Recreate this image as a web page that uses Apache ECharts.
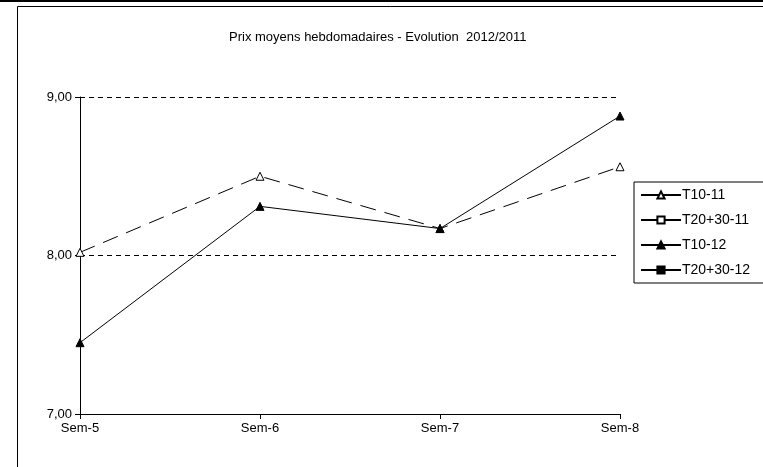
<!doctype html>
<html>
<head>
<meta charset="UTF-8">
<script src="https://cdn.jsdelivr.net/npm/echarts@6/dist/echarts.min.js"></script>
<style>body{margin:0;background:#fff}</style>
</head>
<body>
<div id="main" style="width:763px;height:467px;"></div>
<script>
var categories = ['Sem-5', 'Sem-6', 'Sem-7', 'Sem-8'];
var t1011 = [8.02, 8.50, 8.17, 8.56];
var t2030_11 = [];
var t1012 = [7.45, 8.31, 8.17, 8.88];
var t2030_12 = [];
var yTicks = [7, 8, 9];

var myChart = echarts.init(document.getElementById('main'));
var font = 'Liberation Sans, Arial, sans-serif';
function fmt(v){ return v.toFixed(2).replace('.', ','); }
function ser(name, data, sym, filled, dash){
    return {
        name: name, type: 'line', data: data,
        symbol: sym, symbolSize: 8,
        itemStyle: {color: filled ? '#000' : '#fff', borderColor: '#000', borderWidth: 1},
        lineStyle: {color: '#000', width: 1, type: dash ? [16, 9] : 'solid'}
    };
}
myChart.setOption({
    animation: false,
    title: {text: 'Prix moyens hebdomadaires - Evolution  2012/2011', left: 224, top: 26,
        textStyle: {fontFamily: font, fontSize: 13, fontWeight: 'normal', color: '#000'}},
    grid: {left: 80, right: 143, top: 97, bottom: 53},
    legend: {
        orient: 'vertical', left: 634, top: 182, itemGap: 11, itemWidth: 40, itemHeight: 9,
        borderColor: '#000', borderWidth: 1, padding: [6, 20, 6, 6],
        lineStyle: {type: 'solid'},
        textStyle: {fontFamily: font, fontSize: 14, color: '#000', padding: [0, 0, 0, -4]},
        data: ['T10-11', 'T20+30-11', 'T10-12', 'T20+30-12']
    },
    xAxis: {
        type: 'category', boundaryGap: false, data: categories,
        axisLine: {lineStyle: {color: '#000'}},
        axisTick: {alignWithLabel: true, length: 5, lineStyle: {color: '#000'}},
        axisLabel: {fontFamily: font, fontSize: 13, color: '#000', margin: 8}
    },
    yAxis: {
        type: 'value', min: 7, max: 9, interval: 1,
        axisLine: {show: true, lineStyle: {color: '#000'}},
        axisTick: {show: true, length: 5, lineStyle: {color: '#000'}},
        axisLabel: {fontFamily: font, fontSize: 13, color: '#000', formatter: fmt},
        splitLine: {lineStyle: {color: '#000', type: [5, 4]}}
    },
    graphic: [
        {type: 'rect', shape: {x: 0, y: 0, width: 763, height: 2}, style: {fill: '#000'}},
        {type: 'rect', shape: {x: 17.5, y: 6.5, width: 800, height: 500}, style: {fill: 'none', stroke: '#000', lineWidth: 1}}
    ],
    series: [
        ser('T10-11', t1011, 'triangle', false, true),
        ser('T20+30-11', t2030_11, 'rect', false, false),
        ser('T10-12', t1012, 'triangle', true, false),
        ser('T20+30-12', t2030_12, 'rect', true, false)
    ]
});
</script>
</body>
</html>
